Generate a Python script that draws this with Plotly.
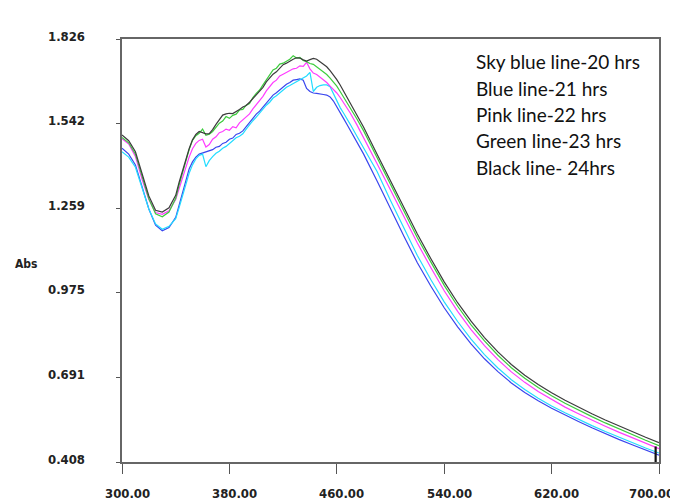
import plotly.graph_objects as go

# wavelength grid (nm): 5 nm steps, 2.5 nm in the noisy band 340-470, 10 nm in the tail
wavelength = (list(range(300, 340, 5)) + [340 + 2.5 * i for i in range(53)]
              + [475, 480] + list(range(490, 701, 10)))

abs_20h_sky = [1.448, 1.430, 1.396, 1.326, 1.256, 1.206, 1.188, 1.198,
               1.224, 1.260, 1.300, 1.340, 1.376, 1.404, 1.424, 1.436, 1.440, 1.398, 1.418, 1.432, 1.443,
               1.450, 1.460, 1.466, 1.476, 1.484, 1.495, 1.500, 1.508, 1.524, 1.540, 1.552, 1.564, 1.578,
               1.590, 1.604, 1.614, 1.628, 1.636, 1.646, 1.654, 1.664, 1.670, 1.676, 1.682, 1.688, 1.696,
               1.702, 1.714, 1.650, 1.664, 1.670, 1.672, 1.672, 1.666, 1.642, 1.615, 1.596, 1.578, 1.560, 1.540,
               1.500, 1.462,
               1.382, 1.285, 1.192, 1.100, 1.020, 0.945, 0.879, 0.820, 0.768, 0.723, 0.684, 0.651, 0.622,
               0.596, 0.573, 0.551, 0.530, 0.510, 0.491, 0.473, 0.455, 0.438]

abs_21h_blue = [1.460, 1.440, 1.404, 1.330, 1.256, 1.202, 1.183, 1.194,
                1.228, 1.268, 1.310, 1.352, 1.390, 1.414, 1.430, 1.440, 1.444, 1.447, 1.450, 1.455, 1.463,
                1.466, 1.476, 1.480, 1.490, 1.494, 1.506, 1.510, 1.518, 1.532, 1.548, 1.560, 1.574, 1.584,
                1.598, 1.612, 1.624, 1.638, 1.646, 1.656, 1.664, 1.674, 1.680, 1.688, 1.690, 1.692, 1.688,
                1.660, 1.650, 1.645, 1.644, 1.641, 1.640, 1.638, 1.632, 1.618, 1.600, 1.580, 1.560, 1.540, 1.520,
                1.480, 1.440,
                1.350, 1.256, 1.165, 1.076, 0.998, 0.925, 0.861, 0.804, 0.754, 0.711, 0.673, 0.641, 0.613,
                0.588, 0.565, 0.544, 0.523, 0.503, 0.484, 0.466, 0.448, 0.431]

abs_22h_pink = [1.492, 1.474, 1.432, 1.355, 1.288, 1.244, 1.238, 1.250,
                1.288, 1.325, 1.360, 1.398, 1.430, 1.458, 1.476, 1.486, 1.490, 1.464, 1.472, 1.490, 1.498,
                1.512, 1.516, 1.524, 1.520, 1.532, 1.528, 1.545, 1.555, 1.562, 1.575, 1.592, 1.606, 1.618,
                1.634, 1.652, 1.668, 1.680, 1.688, 1.702, 1.708, 1.714, 1.718, 1.726, 1.728, 1.736, 1.734,
                1.748, 1.726, 1.712, 1.707, 1.698, 1.690, 1.680, 1.668, 1.658, 1.645, 1.630, 1.614, 1.596, 1.578,
                1.538, 1.496,
                1.408, 1.320, 1.230, 1.142, 1.060, 0.982, 0.913, 0.852, 0.798, 0.751, 0.710, 0.675, 0.644,
                0.617, 0.592, 0.570, 0.548, 0.528, 0.508, 0.489, 0.471, 0.453]

abs_23h_green = [1.496, 1.478, 1.440, 1.362, 1.290, 1.240, 1.230, 1.246,
                 1.292, 1.336, 1.376, 1.420, 1.455, 1.486, 1.502, 1.510, 1.524, 1.503, 1.507, 1.516, 1.530,
                 1.544, 1.551, 1.566, 1.560, 1.570, 1.574, 1.588, 1.590, 1.604, 1.610, 1.630, 1.644, 1.655,
                 1.672, 1.690, 1.705, 1.722, 1.728, 1.742, 1.745, 1.752, 1.758, 1.770, 1.762, 1.764, 1.754,
                 1.750, 1.744, 1.741, 1.733, 1.726, 1.716, 1.707, 1.695, 1.682, 1.668, 1.650, 1.632, 1.616, 1.598,
                 1.558, 1.518,
                 1.428, 1.338, 1.250, 1.160, 1.079, 1.000, 0.930, 0.868, 0.814, 0.766, 0.724, 0.689, 0.658,
                 0.630, 0.605, 0.582, 0.560, 0.539, 0.519, 0.500, 0.481, 0.463]

abs_24h_black = [1.504, 1.485, 1.448, 1.372, 1.300, 1.252, 1.246, 1.260,
                 1.302, 1.345, 1.382, 1.424, 1.458, 1.488, 1.506, 1.516, 1.512, 1.508, 1.509, 1.522, 1.540,
                 1.556, 1.571, 1.575, 1.577, 1.576, 1.582, 1.590, 1.598, 1.603, 1.614, 1.626, 1.640, 1.650,
                 1.664, 1.682, 1.696, 1.708, 1.716, 1.730, 1.740, 1.745, 1.752, 1.758, 1.763, 1.762, 1.756,
                 1.752, 1.757, 1.761, 1.758, 1.750, 1.742, 1.733, 1.720, 1.706, 1.690, 1.672, 1.652, 1.632, 1.612,
                 1.570, 1.530,
                 1.440, 1.350, 1.262, 1.172, 1.090, 1.012, 0.942, 0.880, 0.825, 0.777, 0.735, 0.699, 0.668,
                 0.640, 0.615, 0.592, 0.570, 0.549, 0.529, 0.510, 0.491, 0.473]

# instrument cursor shown at the right end of the scan
cursor_nm = [697.5]
cursor_abs = [0.432]

x_ticks = [300, 380, 460, 540, 620, 700]
x_tick_text = ["300.00", "380.00", "460.00", "540.00", "620.00", "700.00"]
y_ticks = [0.408, 0.691, 0.975, 1.259, 1.542, 1.826]
y_tick_text = ["0.408", "0.691", "0.975", "1.259", "1.542", "1.826"]

legend_lines = ["Sky blue line-20 hrs", "Blue line-21 hrs", "Pink line-22 hrs",
                "Green line-23 hrs", "Black line- 24hrs"]

series = [
    (abs_21h_blue, "#3a46ee"),
    (abs_20h_sky, "#22dcff"),
    (abs_22h_pink, "#ff3cff"),
    (abs_23h_green, "#3ccc3c"),
    (abs_24h_black, "#3c3c3c"),
]

# page body has an 8px margin: the figure is sized/placed so the plot box lands
# at x 122..659, y 39..462 of the window
W, H = 670, 494
ML, MT, MR, MB = 114, 31, 19, 40
PW, PH = W - ML - MR, H - MT - MB

fig = go.Figure()
for vals, col in series:
    fig.add_trace(go.Scatter(x=wavelength, y=vals, mode="lines",
                             line=dict(color=col, width=1.2), showlegend=False))

fig.add_trace(go.Scatter(x=cursor_nm, y=cursor_abs, mode="markers", showlegend=False,
                         marker=dict(symbol="line-ns-open", size=12, color="#111111",
                                     line=dict(width=2.2, color="#111111"))))

cond = "Liberation Sans Narrow, Arial Narrow, DejaVu Sans Condensed"
lab_font = dict(family=cond, size=13, color="#222222", weight="bold")

fig.update_layout(
    width=W, height=H,
    margin=dict(l=ML, r=MR, t=MT, b=MB, autoexpand=False),
    paper_bgcolor="white", plot_bgcolor="white",
    showlegend=False,
    xaxis=dict(range=[300, 700], tickvals=x_ticks, showticklabels=False,
               showgrid=False, zeroline=False, showline=True, mirror=True,
               linecolor="#666666", linewidth=1.5, ticks="outside", ticklen=10,
               tickcolor="#555555", tickwidth=1.2, automargin=False),
    yaxis=dict(range=[0.408, 1.826], tickvals=y_ticks, showticklabels=False,
               showgrid=False, zeroline=False, showline=True, mirror=True,
               linecolor="#666666", linewidth=1.5, ticks="outside", ticklen=4,
               tickcolor="#555555", tickwidth=1.2, automargin=False),
)

for v, t in zip(y_ticks, y_tick_text):
    fig.add_annotation(text=t, xref="paper", yref="y", x=(87 - 122) / PW, y=v,
                       xanchor="right", yanchor="middle", yshift=3, showarrow=False,
                       font=lab_font)

for i, (v, t) in enumerate(zip(x_ticks, x_tick_text)):
    last = i == len(x_ticks) - 1
    fig.add_annotation(text=t, xref="x", yref="paper", x=v, y=(454 - 485) / PH,
                       xanchor="right" if last else "center", yanchor="middle",
                       xshift=17 if last else 5, showarrow=False, font=lab_font)

fig.add_annotation(text="Abs", xref="paper", yref="paper", x=(18 - ML) / PW, y=(454 - 256) / PH,
                   xanchor="center", yanchor="middle", showarrow=False,
                   font=dict(family=cond, size=12, color="#222222", weight="bold"))

for i, t in enumerate(legend_lines):
    fig.add_annotation(text=t, xref="paper", yref="paper", x=(466 - ML) / PW,
                       y=(454 - (54 + 26.3 * i)) / PH, xanchor="left", yanchor="middle",
                       showarrow=False, font=dict(family="Lato", size=19, color="#111111"))

fig.write_html("out.html")
